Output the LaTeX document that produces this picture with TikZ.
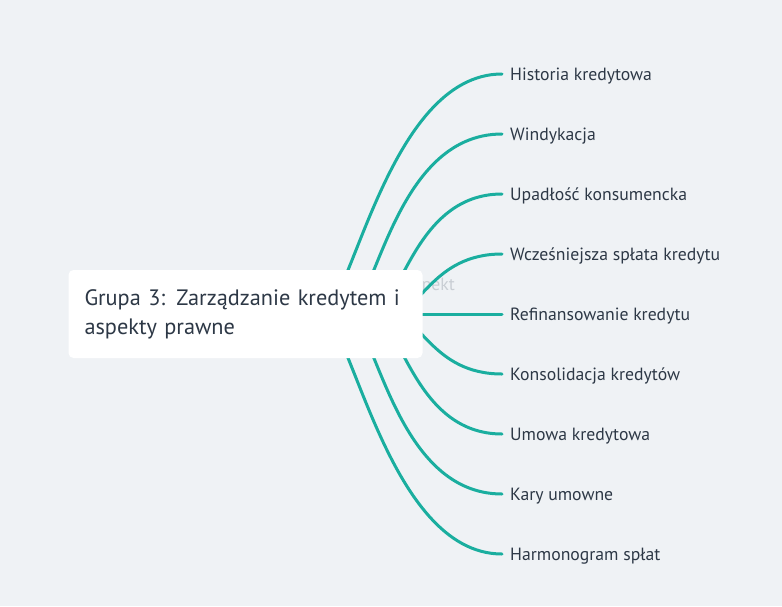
\documentclass[tikz,border=0pt]{standalone}
\usepackage{fontspec}
\setmainfont{PT Sans}
\usetikzlibrary{backgrounds}
\definecolor{tlo}{HTML}{EFF2F5}
\definecolor{morski}{HTML}{1AAE9F}
\definecolor{napis}{HTML}{2D3846}
\definecolor{cien}{HTML}{C9CED4}
\tikzset{
	galaz/.style={morski,line width=3pt,line cap=round},
	lisc/.style={anchor=west,inner xsep=8pt,inner ysep=0pt,text height=13.5pt,text depth=0pt,text=napis,font=\fontsize{17.7}{20}\selectfont},
	korzen/.style={fill=white,rounded corners=5pt,text=napis,align=left,text width=322pt,inner xsep=16pt,minimum height=88pt,font=\fontsize{22.3}{29}\selectfont}
}
\begin{document}
\begin{tikzpicture}[x=1pt,y=-1pt,line join=round]
	\useasboundingbox (0,0) rectangle (782,606);
	%	\draw[thin,gray!50,step=20] (0,0) grid (782,606);
	
	\node[korzen] (root) at (245.5,314) {Grupa 3: Zarządzanie kredytem i\\aspekty prawne};
	\foreach \n/\t [count=\i from -4] in {hist/Historia kredytowa,wind/Windykacja,upad/Upadłość konsumencka,wcze/Wcześniejsza spłata kredytu,refi/Refinansowanie kredytu,kons/Konsolidacja kredytów,umow/Umowa kredytowa,kary/Kary umowne,harm/Harmonogram spłat}
		\node[lisc] (\n) at (502,314+60*\i) {\t};
	
	\begin{scope}[on background layer]
		\fill[tlo] (0,0) rectangle (782,606);
		\node[text=cien,anchor=base east,inner sep=0pt,font=\fontsize{17.7}{20}\selectfont] (ukryty) at (455,290) {Aspekt};
		\foreach \n/\s/\b in {hist/75/115,wind/100/110,upad/125/90,wcze/145/70,kons/145/70,umow/125/90,kary/100/110,harm/75/115}
			\draw[galaz] ([xshift=\s]root.center) .. controls +(30,0) and +(-\b,0) .. (\n.west);
		\draw[galaz] (root.east) -- (refi.west);
	\end{scope}
\end{tikzpicture}
\end{document}
